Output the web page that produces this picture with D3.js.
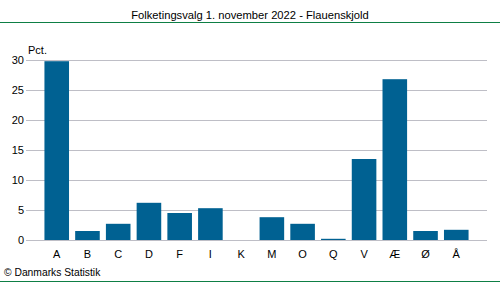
<!DOCTYPE html>
<html>
<head>
<meta charset="utf-8">
<script src="https://cdn.jsdelivr.net/npm/d3@7"></script>
<style>
  body { margin: 0; background: #fff; }
  svg { display: block; font-family: "Liberation Sans", Arial, sans-serif; }
</style>
</head>
<body>
<svg id="chart" width="500" height="282"></svg>
<script>
var categories = ['A', 'B', 'C', 'D', 'F', 'I', 'K', 'M', 'O', 'Q', 'V', 'Æ', 'Ø', 'Å'];
var values = [29.8, 1.5, 2.7, 6.2, 4.5, 5.3, 0, 3.8, 2.7, 0.2, 13.5, 26.8, 1.5, 1.7];
var yTicks = [0, 5, 10, 15, 20, 25, 30];
var title = 'Folketingsvalg 1. november 2022 - Flauenskjold';

var svg = d3.select('#chart');
var plot = { left: 26, right: 487, top: 60, bottom: 240 };

var x = d3.scaleBand().domain(categories).range([plot.left, plot.right]).paddingInner(0.2).paddingOuter(0.6);
var y = d3.scaleLinear().domain([0, 30]).range([plot.bottom, plot.top]);

// title + green rules
svg.append('text')
   .attr('x', 250).attr('y', 19)
   .attr('text-anchor', 'middle')
   .attr('font-size', 11.2)
   .attr('fill', '#000')
   .text(title);
svg.append('line').attr('x1', 0).attr('x2', 500).attr('y1', 22.5).attr('y2', 22.5)
   .attr('stroke', '#0e7f45').attr('stroke-width', 1);
svg.append('line').attr('x1', 0).attr('x2', 500).attr('y1', 281.5).attr('y2', 281.5)
   .attr('stroke', '#0e7f45').attr('stroke-width', 1);

// gridlines
svg.append('g').selectAll('line').data(yTicks).enter().append('line')
   .attr('x1', plot.left).attr('x2', plot.right)
   .attr('y1', d => Math.round(y(d)) + 0.5).attr('y2', d => Math.round(y(d)) + 0.5)
   .attr('stroke', '#bebec6').attr('stroke-width', 1);

// y axis labels
var yAxis = svg.append('g')
   .attr('transform', `translate(${plot.left},0)`)
   .call(d3.axisLeft(y).tickValues(yTicks).tickSize(0).tickPadding(2));
yAxis.select('.domain').remove();
yAxis.selectAll('text').attr('font-size', 11).attr('fill', '#000').attr('font-family', '"Liberation Sans", Arial, sans-serif');

svg.append('text')
   .attr('x', 28).attr('y', 54)
   .attr('font-size', 11)
   .attr('fill', '#000')
   .text('Pct.');

// bars
svg.append('g').selectAll('rect').data(values).enter().append('rect')
   .attr('x', (d, i) => x(categories[i]))
   .attr('width', x.bandwidth())
   .attr('y', d => y(d))
   .attr('height', d => y(0) - y(d))
   .attr('fill', '#006192');

// x axis labels
var xAxis = svg.append('g')
   .attr('transform', `translate(0,${plot.bottom})`)
   .call(d3.axisBottom(x).tickSize(0).tickPadding(10));
xAxis.select('.domain').remove();
xAxis.selectAll('text').attr('font-size', 11).attr('fill', '#000').attr('font-family', '"Liberation Sans", Arial, sans-serif');

svg.append('text')
   .attr('x', 4).attr('y', 276)
   .attr('font-size', 10.3)
   .attr('fill', '#000')
   .text('© Danmarks Statistik');
</script>
</body>
</html>
